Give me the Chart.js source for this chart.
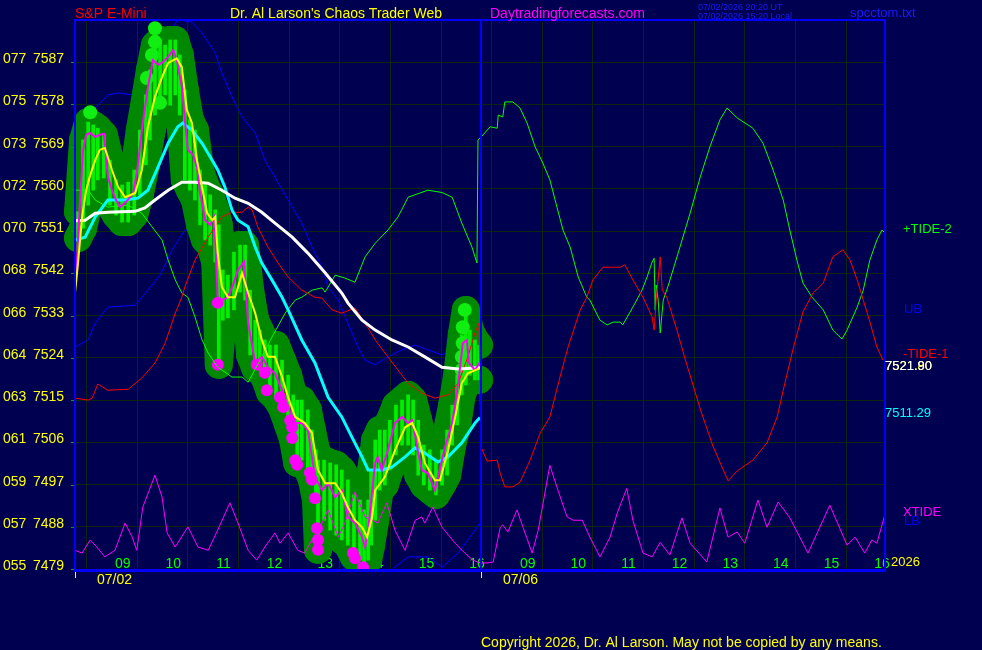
<!DOCTYPE html>
<html><head><meta charset="utf-8">
<script src="https://cdn.jsdelivr.net/npm/chart.js@4"></script>
<style>html,body{margin:0;padding:0;background:#000050;overflow:hidden}#wrap{width:982px;height:650px}</style>
</head><body><div id="wrap"><canvas id="c" width="982" height="650"></canvas></div>
<script>
// ---------- axis definitions ----------
const yTicks = [7479,7488,7497,7506,7515,7524,7533,7542,7551,7560,7569,7578,7587];
const yCodes = ['055','057','059','061','063','064','066','068','070','072','073','075','077'];
const hourTicks = [9,10,11,12,13,14,15,16,17,18,19,20,21,22,23,24];
const hourNames = ['09','10','11','12','13','14','15','16','09','10','11','12','13','14','15','16'];
const sessionStarts = [8.27, 16.29];
const sessionDates = ['07/02','07/06'];

// ---------- series (hour, price) ----------
const closeSeries = [[8.27,7539.1],[8.31,7544.4],[8.33,7549.7],[8.37,7557.6],[8.43,7568.3],[8.49,7571.5],[8.57,7571.9],[8.67,7571.0],[8.76,7571.5],[8.84,7571.7],[8.92,7562.5],[9.00,7559.7],[9.08,7557.6],[9.16,7556.1],[9.26,7557.0],[9.36,7558.2],[9.42,7559.1],[9.50,7564.0],[9.59,7572.5],[9.71,7581.7],[9.81,7587.4],[9.91,7586.4],[10.01,7587.0],[10.11,7588.1],[10.21,7589.6],[10.28,7587.4],[10.38,7581.7],[10.44,7574.7],[10.50,7568.3],[10.60,7567.2],[10.68,7564.6],[10.74,7559.1],[10.84,7553.3],[10.94,7552.3],[11.02,7554.0],[11.09,7536.3],[11.17,7536.3],[11.29,7536.9],[11.39,7539.5],[11.49,7542.7],[11.61,7544.4],[11.69,7531.4],[11.83,7522.9],[11.96,7524.2],[12.08,7522.0],[12.22,7520.7],[12.36,7517.1],[12.48,7513.5],[12.62,7510.1],[12.75,7510.1],[12.87,7508.6],[12.95,7502.9],[13.01,7498.6],[13.15,7495.8],[13.27,7497.3],[13.41,7494.3],[13.54,7495.8],[13.66,7490.1],[13.80,7488.8],[13.94,7485.8],[14.00,7483.7],[14.06,7487.3],[14.14,7495.8],[14.20,7501.6],[14.25,7502.9],[14.33,7500.1],[14.45,7504.3],[14.59,7510.1],[14.73,7511.4],[14.85,7510.1],[14.93,7510.7],[15.05,7503.7],[15.12,7500.1],[15.24,7499.4],[15.38,7495.8],[15.44,7498.6],[15.58,7505.0],[15.72,7510.1],[15.84,7518.6],[15.93,7527.1],[16.01,7527.8],[16.05,7522.9],[16.17,7521.4],[16.27,7523.1]];

const yellowMA = [[8.27,7537.8],[8.33,7544.2],[8.41,7554.0],[8.49,7559.7],[8.57,7562.9],[8.67,7566.1],[8.76,7568.3],[8.86,7568.7],[9.00,7564.0],[9.12,7560.4],[9.26,7558.2],[9.46,7559.1],[9.59,7564.0],[9.71,7573.2],[9.85,7579.6],[9.99,7583.8],[10.11,7586.8],[10.28,7587.8],[10.38,7585.9],[10.48,7576.8],[10.58,7574.0],[10.68,7566.1],[10.78,7560.4],[10.88,7554.8],[10.98,7553.3],[11.04,7554.0],[11.09,7546.3],[11.17,7539.1],[11.29,7536.9],[11.43,7536.9],[11.57,7542.0],[11.69,7537.8],[11.83,7533.5],[11.96,7527.8],[12.08,7524.2],[12.22,7524.2],[12.36,7519.9],[12.48,7515.6],[12.62,7511.4],[12.81,7510.1],[12.95,7508.0],[13.07,7500.1],[13.21,7497.3],[13.41,7497.3],[13.54,7495.2],[13.66,7492.2],[13.80,7489.4],[13.94,7487.9],[14.04,7485.8],[14.14,7490.1],[14.20,7495.8],[14.39,7498.6],[14.59,7504.3],[14.79,7509.2],[14.93,7510.1],[15.05,7507.1],[15.18,7501.6],[15.38,7497.9],[15.48,7497.9],[15.64,7504.3],[15.78,7511.4],[15.91,7518.6],[16.03,7520.7],[16.27,7521.8]];

const cyanMA = [[8.27,7549.1],[8.47,7549.7],[8.67,7554.0],[8.92,7557.6],[9.26,7557.6],[9.51,7558.0],[9.71,7559.7],[9.91,7564.6],[10.11,7569.7],[10.30,7573.2],[10.40,7574.0],[10.58,7572.5],[10.78,7569.7],[10.98,7566.1],[11.09,7564.0],[11.23,7560.4],[11.37,7555.5],[11.49,7553.3],[11.69,7551.9],[11.83,7547.6],[11.96,7544.2],[12.16,7540.6],[12.36,7536.9],[12.48,7534.2],[12.75,7527.8],[13.01,7522.9],[13.27,7515.6],[13.54,7511.4],[13.74,7507.1],[13.94,7502.9],[14.06,7500.1],[14.33,7500.1],[14.53,7500.7],[14.79,7502.9],[14.99,7504.8],[15.18,7503.7],[15.44,7501.8],[15.64,7502.9],[15.91,7505.9],[16.17,7510.1],[16.27,7511.3]];

const whiteMA = [[8.27,7553.2],[8.47,7553.3],[8.67,7554.8],[8.92,7555.0],[9.46,7555.2],[9.65,7555.9],[9.85,7557.6],[10.11,7559.7],[10.38,7561.4],[10.64,7561.4],[10.90,7561.2],[11.17,7559.7],[11.43,7558.0],[11.69,7556.9],[11.96,7555.0],[12.22,7552.7],[12.56,7549.7],[12.87,7546.3],[13.21,7542.1],[13.54,7537.8],[13.66,7535.7],[13.94,7532.0],[14.20,7529.9],[14.53,7527.8],[14.85,7526.3],[15.18,7524.2],[15.52,7522.0],[15.84,7521.6],[16.27,7521.9]];

const tide2 = [[8.27,7559.7],[8.53,7559.7],[8.67,7557.6],[8.92,7556.1],[9.32,7556.5],[9.59,7554.8],[9.79,7551.9],[9.99,7549.1],[10.11,7544.8],[10.25,7540.6],[10.38,7537.8],[10.50,7536.9],[10.64,7532.7],[10.78,7527.8],[10.90,7525.0],[11.09,7522.0],[11.37,7519.9],[11.57,7519.9],[11.69,7518.8],[11.96,7524.2],[12.16,7528.4],[12.42,7533.5],[12.62,7536.3],[12.75,7536.9],[12.95,7538.4],[13.15,7538.9],[13.21,7538.0],[13.41,7541.6],[13.60,7541.0],[13.80,7540.1],[14.00,7545.5],[14.20,7548.4],[14.45,7551.2],[14.65,7554.0],[14.85,7558.2],[15.24,7559.7],[15.52,7559.2],[15.72,7558.2],[15.91,7552.7],[16.11,7547.6],[16.21,7544.2],[16.23,7570.4],[16.29,7571.0],[16.47,7573.2],[16.61,7572.9],[16.63,7575.7],[16.72,7575.3],[16.76,7578.5],[16.92,7578.5],[17.06,7577.2],[17.20,7574.0],[17.36,7568.9],[17.51,7565.5],[17.65,7561.9],[17.79,7556.1],[17.91,7551.2],[18.05,7547.6],[18.21,7541.2],[18.38,7536.9],[18.44,7536.3],[18.64,7532.0],[18.78,7531.0],[18.90,7531.6],[19.04,7531.6],[19.09,7531.0],[19.29,7534.8],[19.47,7538.4],[19.57,7541.2],[19.67,7544.4],[19.71,7545.2],[19.73,7534.2],[19.75,7539.5],[19.79,7536.3],[19.83,7529.3],[19.89,7536.3],[19.98,7539.1],[20.22,7547.6],[20.42,7554.8],[20.62,7562.5],[20.81,7568.9],[21.01,7574.7],[21.15,7577.2],[21.35,7575.1],[21.66,7572.9],[21.86,7569.7],[22.06,7564.0],[22.26,7557.6],[22.39,7551.2],[22.53,7544.8],[22.65,7539.9],[22.83,7536.9],[23.05,7534.2],[23.24,7529.9],[23.42,7528.0],[23.52,7529.9],[23.72,7534.8],[23.84,7538.4],[23.97,7544.8],[24.11,7549.1],[24.21,7551.2],[24.27,7550.6]];

const tide1 = [[8.27,7515.4],[8.53,7515.0],[8.61,7515.4],[8.72,7518.4],[8.92,7517.1],[9.32,7517.3],[9.59,7519.7],[9.85,7522.9],[10.05,7527.1],[10.25,7533.5],[10.38,7536.9],[10.44,7539.1],[10.64,7544.8],[10.90,7549.7],[11.17,7554.0],[11.37,7555.0],[11.57,7555.0],[11.69,7556.1],[11.77,7555.5],[11.88,7551.9],[12.08,7547.6],[12.28,7544.2],[12.48,7541.2],[12.75,7538.4],[13.01,7536.9],[13.15,7536.7],[13.35,7534.2],[13.54,7533.5],[13.80,7534.6],[14.00,7531.4],[14.20,7527.8],[14.45,7524.2],[14.65,7521.4],[14.85,7518.6],[15.12,7516.5],[15.38,7515.4],[15.64,7516.1],[15.84,7518.6],[16.03,7524.2],[16.17,7529.3],[16.25,7531.4],[16.29,7505.0],[16.41,7502.0],[16.61,7502.2],[16.67,7499.4],[16.76,7496.5],[16.92,7496.5],[17.06,7497.5],[17.26,7502.2],[17.46,7508.0],[17.65,7511.4],[17.85,7519.9],[18.01,7526.3],[18.25,7534.2],[18.38,7536.9],[18.50,7540.6],[18.70,7543.3],[19.04,7543.3],[19.13,7543.8],[19.29,7540.6],[19.49,7536.9],[19.67,7532.7],[19.71,7529.9],[19.75,7536.3],[19.83,7545.5],[19.87,7538.4],[19.96,7536.9],[20.16,7529.9],[20.32,7523.8],[20.62,7513.1],[20.87,7505.2],[21.17,7497.8],[21.35,7499.9],[21.66,7502.2],[21.94,7505.9],[22.14,7511.4],[22.26,7517.1],[22.45,7525.7],[22.65,7533.8],[22.85,7537.8],[23.05,7539.9],[23.24,7545.5],[23.44,7547.0],[23.58,7544.8],[23.72,7540.6],[23.84,7536.3],[23.97,7531.7],[24.11,7526.3],[24.23,7523.5]];

const upperBand = [[8.27,7571.5],[8.47,7573.6],[8.67,7577.2],[8.92,7580.0],[9.12,7580.4],[9.40,7580.0],[9.55,7581.0],[9.75,7585.3],[10.05,7591.7],[10.30,7596.0],[10.58,7595.5],[10.78,7593.2],[11.04,7588.9],[11.17,7584.7],[11.37,7579.6],[11.57,7575.3],[11.83,7571.9],[12.02,7566.1],[12.22,7562.5],[12.48,7557.6],[12.75,7552.7],[12.95,7547.6],[13.15,7543.3],[13.27,7539.1],[13.47,7536.3],[13.66,7531.4],[13.86,7526.3],[14.00,7523.5],[14.20,7522.5],[14.45,7524.2],[14.73,7525.7],[14.99,7526.7],[15.24,7525.7],[15.52,7524.6],[15.78,7526.3],[15.97,7528.4],[16.17,7530.6],[16.27,7532.0]];

const lowerBand = [[8.27,7526.3],[8.53,7527.8],[8.67,7531.4],[8.92,7534.8],[9.46,7535.2],[9.71,7538.4],[9.95,7541.6],[10.19,7547.0],[10.44,7551.2],[10.70,7552.3],[11.04,7544.8],[11.53,7532.0],[12.12,7515.0],[12.71,7500.1],[13.31,7485.2],[13.70,7476.7],[14.20,7474.5],[14.59,7479.4],[14.85,7481.6],[15.24,7481.6],[15.52,7479.4],[15.84,7482.4],[16.17,7487.3],[16.27,7488.8]];

const xtide = [[8.27,7483.0],[8.41,7482.4],[8.57,7485.2],[8.70,7483.7],[8.86,7481.6],[9.06,7483.0],[9.26,7488.8],[9.40,7485.8],[9.49,7483.0],[9.61,7492.2],[9.85,7499.0],[9.99,7494.3],[10.09,7486.7],[10.25,7483.7],[10.50,7488.0],[10.70,7483.7],[10.90,7483.0],[11.09,7487.3],[11.33,7493.1],[11.49,7488.8],[11.69,7483.0],[11.86,7480.9],[12.02,7483.7],[12.22,7486.7],[12.32,7484.5],[12.48,7486.7],[12.67,7483.0],[12.81,7482.4],[12.95,7485.2],[13.15,7488.8],[13.27,7491.6],[13.47,7485.8],[13.60,7488.8],[13.80,7495.4],[14.00,7490.1],[14.25,7488.8],[14.43,7493.1],[14.59,7487.3],[14.79,7483.0],[14.99,7489.4],[15.12,7490.1],[15.18,7488.8],[15.34,7492.2],[15.52,7487.9],[15.78,7484.5],[15.97,7482.4],[16.13,7480.9],[16.27,7480.3],[16.41,7480.3],[16.53,7480.5],[16.67,7487.9],[16.72,7488.4],[16.82,7486.9],[17.00,7491.6],[17.12,7487.9],[17.30,7482.4],[17.42,7487.3],[17.65,7501.1],[17.81,7495.8],[17.99,7490.1],[18.11,7489.4],[18.29,7489.4],[18.44,7485.8],[18.64,7481.6],[18.84,7485.8],[18.98,7490.9],[19.17,7496.2],[19.29,7489.4],[19.49,7482.4],[19.67,7481.6],[19.83,7484.7],[20.02,7482.0],[20.26,7489.9],[20.42,7484.5],[20.75,7480.5],[21.01,7492.0],[21.17,7485.8],[21.35,7486.9],[21.50,7484.5],[21.76,7493.7],[21.94,7487.9],[22.16,7493.3],[22.39,7489.9],[22.75,7482.4],[23.18,7492.6],[23.52,7484.1],[23.68,7485.8],[23.87,7482.4],[24.01,7485.2],[24.11,7484.5],[24.27,7490.7]];

// price bars (time, high, low)
const barTimes = [8.33,8.43,8.53,8.63,8.72,8.84,8.96,9.08,9.20,9.32,9.44,9.55,9.67,9.75,9.85,9.95,10.05,10.15,10.25,10.34,10.44,10.54,10.64,10.74,10.84,10.94,11.04,11.11,11.19,11.29,11.41,11.53,11.63,11.73,11.83,11.92,12.02,12.12,12.24,12.36,12.48,12.58,12.66,12.75,12.87,12.95,13.03,13.07,13.19,13.31,13.43,13.54,13.66,13.78,13.90,13.98,14.06,14.12,14.20,14.29,14.39,14.49,14.61,14.73,14.85,14.95,15.05,15.16,15.28,15.40,15.52,15.62,15.72,15.82,15.91,15.99,16.07,16.17,16.25];
const barHigh = [7555.1,7570.4,7574.2,7573.6,7572.9,7571.5,7566.1,7561.9,7560.8,7561.4,7564.0,7572.5,7580.0,7585.3,7590.6,7591.7,7590.6,7591.7,7591.7,7588.5,7581.0,7574.7,7572.5,7564.0,7560.8,7558.7,7555.5,7552.3,7542.7,7541.6,7546.5,7548.0,7548.0,7538.4,7532.0,7529.9,7527.8,7526.7,7526.7,7523.5,7520.3,7516.1,7515.0,7515.0,7512.9,7508.6,7504.4,7502.2,7502.2,7501.6,7501.2,7500.1,7498.0,7494.8,7493.7,7491.6,7493.7,7500.1,7506.5,7508.6,7508.6,7510.7,7513.9,7515.0,7516.1,7515.0,7510.7,7505.4,7504.4,7502.2,7504.4,7508.6,7513.9,7520.3,7528.9,7534.2,7529.9,7527.8,7526.7];
const barLow = [7549.5,7551.6,7556.5,7559.7,7561.9,7562.3,7556.5,7554.4,7552.9,7552.9,7554.4,7558.7,7565.1,7570.4,7575.7,7578.9,7580.0,7577.8,7580.0,7575.7,7561.9,7559.7,7557.6,7552.3,7549.1,7548.0,7544.4,7522.5,7532.0,7532.5,7534.2,7538.0,7536.3,7524.6,7521.8,7521.4,7519.7,7516.7,7515.4,7513.3,7509.7,7506.5,7501.6,7502.2,7500.1,7498.0,7493.7,7483.1,7489.4,7487.3,7486.2,7485.2,7484.1,7481.6,7480.9,7479.4,7480.9,7484.1,7489.4,7495.8,7496.9,7500.1,7503.3,7505.4,7505.4,7503.3,7499.0,7496.9,7495.8,7494.8,7496.9,7499.0,7505.4,7509.7,7516.1,7518.2,7520.3,7519.3,7519.3];
const highDots = [[8.57,7576.3],[9.69,7583.6],[9.85,7594.2],[9.85,7591.3],[9.79,7588.5],[9.95,7578.3],[15.97,7534.2],[15.93,7530.5],[15.93,7527.1],[15.91,7524.2],[15.91,7521.4]];
const lowDots = [[11.09,7535.7],[11.09,7522.5],[11.86,7522.5],[12.02,7520.8],[12.06,7517.1],[12.32,7515.6],[12.38,7513.5],[12.52,7510.7],[12.56,7509.2],[12.56,7506.9],[12.62,7502.2],[12.66,7501.2],[12.91,7499.5],[12.95,7498.0],[13.01,7494.1],[13.05,7487.7],[13.07,7485.2],[13.07,7483.1],[13.76,7482.4],[13.80,7481.3],[13.96,7479.4]];

// ---------- build ----------
const xy = a => a.map(p => ({x:p[0], y:p[1]}));
const FONT = '"Liberation Sans", Arial, sans-serif';
const GRID = '#0b260c';
const DKGREEN = '#008800';

const lineDs = (data, color, width, extra) => Object.assign({
  type:'line', data: xy(data), borderColor: color, borderWidth: width,
  pointRadius: 0, tension: 0, fill: false, clip: 0
}, extra || {});

const datasets = [
  lineDs(yellowMA, '#ffff00', 2),
  lineDs(closeSeries, '#ff00ff', 2),
  lineDs(whiteMA, '#ffffff', 3),
  lineDs(cyanMA, '#00ffff', 3),
  lineDs(xtide, '#ff00ff', 1),
  lineDs(tide1, '#ff0000', 1),
  lineDs(tide2, '#00ff00', 1),
  {type:'scatter', data: xy(lowDots), showLine:false, pointRadius:6, pointBackgroundColor:'#ff00ff', pointBorderWidth:0, clip:{left:10,top:0,right:0,bottom:0}},
  {type:'scatter', data: xy(highDots), showLine:false, pointRadius:7, pointBackgroundColor:'#11ee11', pointBorderWidth:0, clip:{left:10,top:0,right:0,bottom:0}},
  {type:'bar', data: barTimes.map((t,i)=>({x:t, y:[barLow[i], barHigh[i]]})), backgroundColor:'#00f000', borderWidth:0, barThickness:3, clip:{left:10,top:0,right:0,bottom:0}},
  lineDs(barTimes.map((t,i)=>[t, barHigh[i]]), DKGREEN, 28, {borderJoinStyle:'round', borderCapStyle:'round', pointRadius:14, pointBackgroundColor:DKGREEN, pointBorderWidth:0, fill:'+1', backgroundColor:DKGREEN, clip:{left:15,top:0,right:0,bottom:0}}),
  lineDs(barTimes.map((t,i)=>[t, barLow[i]]), DKGREEN, 28, {borderJoinStyle:'round', borderCapStyle:'round', pointRadius:14, pointBackgroundColor:DKGREEN, pointBorderWidth:0, clip:{left:15,top:0,right:0,bottom:0}}),
  lineDs(upperBand, '#0000ff', 1),
  lineDs(lowerBand, '#0000ff', 1)
];

function txt(ctx, s, x, y, color, size) {
  ctx.font = size + 'px ' + FONT; ctx.fillStyle = color; ctx.fillText(s, x, y);
}

const deco = {
  id: 'deco',
  beforeDatasetsDraw(chart) {
    const {ctx, scales:{x}} = chart;
    ctx.save();
    ctx.textAlign = 'left'; ctx.textBaseline = 'alphabetic';
    hourTicks.forEach((h,i) => txt(ctx, hourNames[i], x.getPixelForValue(h) + 3, 568, '#00ff00', 14));
    ctx.restore();
  },
  afterDraw(chart) {
    const {ctx, chartArea:a, scales:{x, y}} = chart;
    ctx.save();
    ctx.textAlign = 'left'; ctx.textBaseline = 'alphabetic';
    yTicks.forEach((v,i) => {
      const py = Math.round(y.getPixelForValue(v));
      txt(ctx, yCodes[i], 3, py + 1, '#ffff00', 14);
      txt(ctx, String(v), 33, py + 1, '#ffff00', 14);
      ctx.fillStyle = '#00a000'; ctx.fillRect(71, py, 4, 1);
    });
    ctx.fillStyle = '#0000ff';
    ctx.fillRect(a.left - 1, a.top - 1, 2, a.bottom - a.top + 2);
    ctx.fillRect(a.right - 1, a.top - 1, 2, a.bottom - a.top + 2);
    ctx.fillRect(a.left - 1, a.top - 1, a.right - a.left + 2, 2);
    ctx.fillRect(a.left - 1, a.bottom - 1, a.right - a.left + 2, 3);
    const div = Math.round(x.getPixelForValue(sessionStarts[1]));
    ctx.fillRect(div - 1, a.top, 2, a.bottom - a.top);
    sessionStarts.forEach((s,i) => {
      const px = Math.round(x.getPixelForValue(s));
      ctx.fillStyle = '#ffff00'; ctx.fillRect(px, a.bottom + 2, 1, 6);
      txt(ctx, sessionDates[i], px + 22, 584, '#ffff00', 14);
    });
    txt(ctx, 'S&P E-Mini', 75, 18, '#ff0000', 14);
    txt(ctx, "Dr. Al Larson's Chaos Trader Web", 230, 18, '#ffff00', 14);
    txt(ctx, 'Daytradingforecasts.com', 490, 18, '#ff00ff', 14);
    txt(ctx, '07/02/2026 20:20 UT', 698, 10, '#1a1aff', 9);
    txt(ctx, '07/02/2026 15:20 Local', 698, 19, '#1a1aff', 9);
    txt(ctx, 'spcctom.txt', 850, 17, '#1a1aff', 13);
    txt(ctx, '+TIDE-2', 903, 233, '#00ff00', 13);
    txt(ctx, 'UB', 904, 313, '#0000ff', 13);
    txt(ctx, '-TIDE-1', 903, 358, '#ff0000', 13);
    txt(ctx, '7521.80', 885, 370, '#ffff00', 13);
    txt(ctx, '7521.90', 885, 370, '#ffffff', 13);
    txt(ctx, '7511.29', 885, 417, '#00ffff', 13);
    txt(ctx, 'XTIDE', 903, 516, '#ff00ff', 13);
    txt(ctx, 'LB', 904, 525, '#0000ff', 13);
    txt(ctx, '2026', 891, 566, '#ffff00', 13);
    txt(ctx, 'Copyright 2026, Dr. Al Larson. May not be copied by any means.', 481, 647, '#ffff00', 14);
    ctx.restore();
  }
};

new Chart(document.getElementById('c'), {
  type: 'line',
  data: { datasets },
  options: {
    responsive: false, animation: false, devicePixelRatio: 1, events: [],
    layout: { padding: { left: 75, right: 97, top: 20, bottom: 80 } },
    plugins: { legend: { display: false }, tooltip: { enabled: false } },
    scales: {
      x: { type: 'linear', min: 8.27, max: 24.27, offset: false,
           grid: { color: GRID, drawTicks: false, lineWidth: 1 }, border: { display: false },
           ticks: { display: false },
           afterBuildTicks: s => { s.ticks = hourTicks.map(v => ({ value: v })); },
           afterFit: s => { s.height = 0; } },
      y: { type: 'linear', min: 7478.8, max: 7595.95,
           grid: { color: GRID, drawTicks: false, lineWidth: 1 }, border: { display: false },
           ticks: { display: false },
           afterBuildTicks: s => { s.ticks = yTicks.map(v => ({ value: v })); },
           afterFit: s => { s.width = 0; } }
    }
  },
  plugins: [deco]
});
</script></body></html>
